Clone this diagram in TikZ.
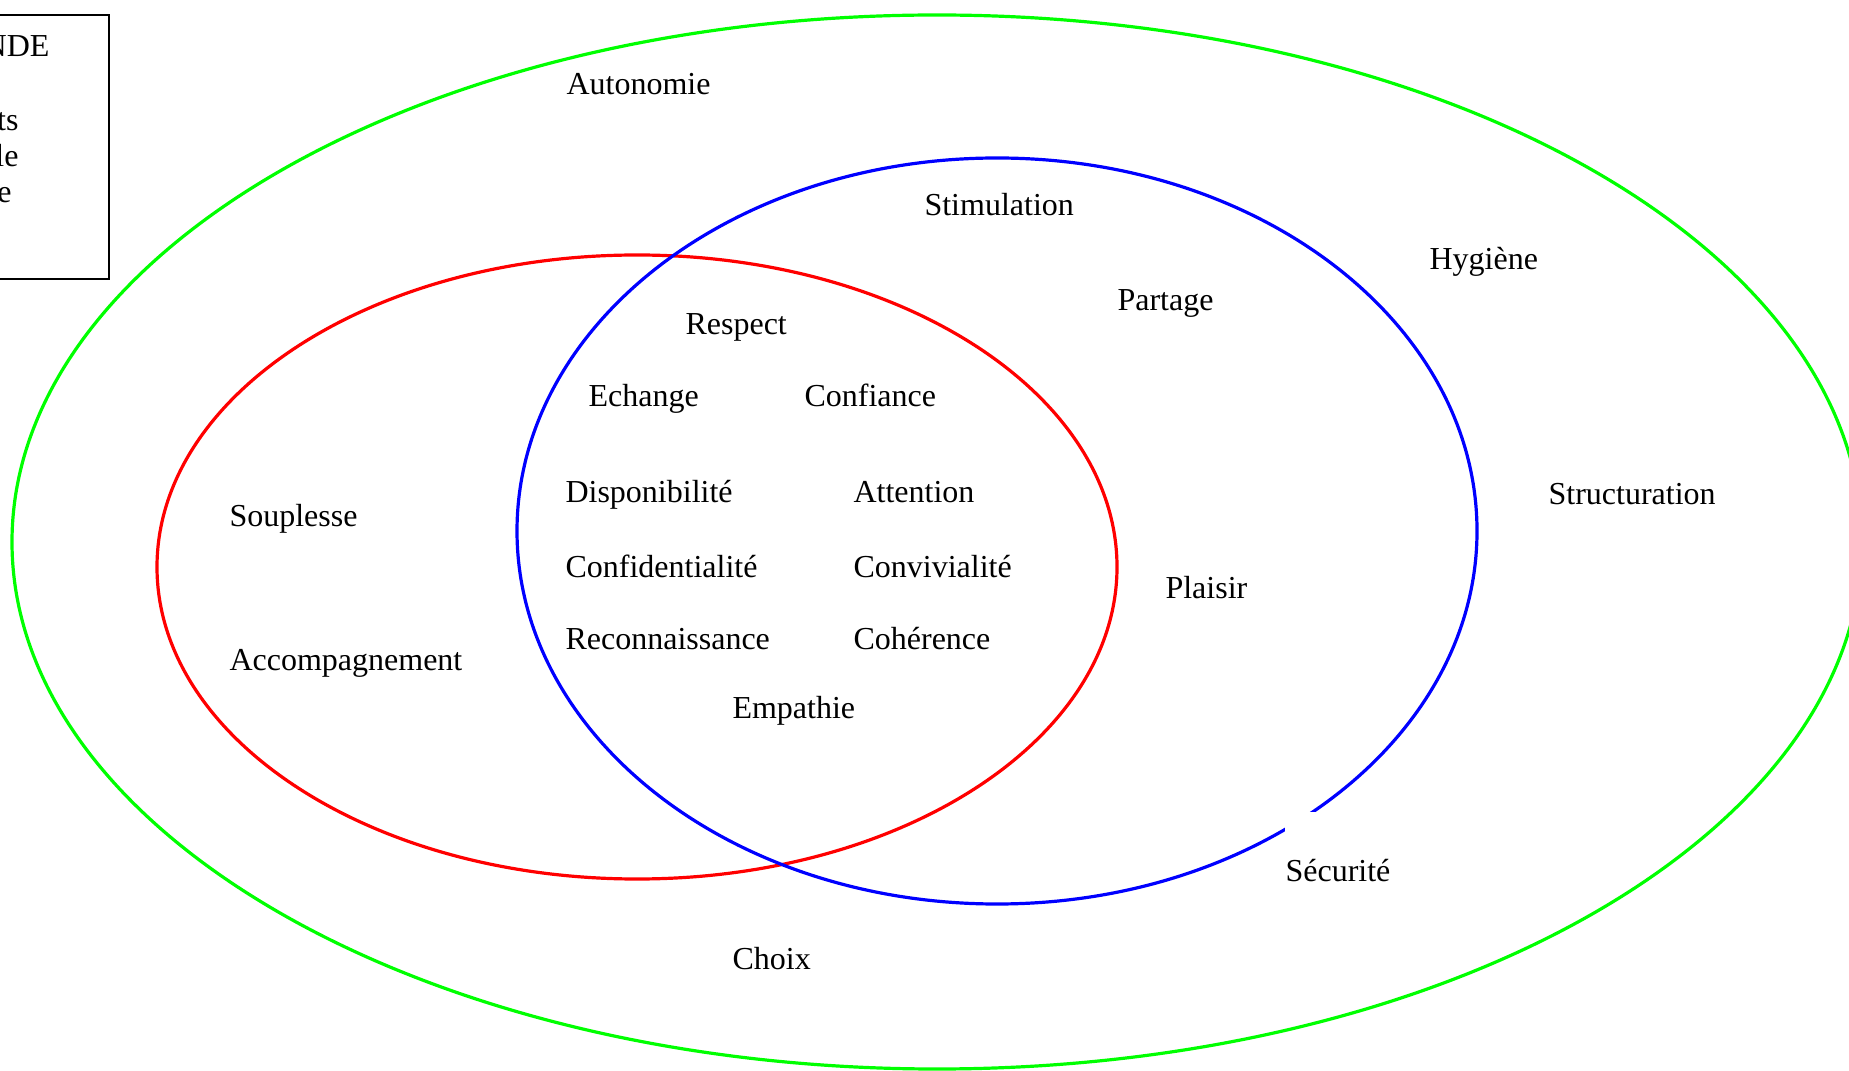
\documentclass[tikz,border=0pt]{standalone}
\usepackage{fontspec}
\setmainfont{Liberation Serif}
\begin{document}
\begin{tikzpicture}[x=0.375pt,y=-0.375pt,
  lbl/.style={anchor=base west,inner sep=0pt,font=\fontsize{12}{14}\selectfont},
  lbr/.style={anchor=base east,inner sep=0pt,font=\fontsize{12}{14}\selectfont},
  ring/.style={line width=1.2pt}]
\useasboundingbox (0,0) rectangle (1849,1071);
\definecolor{vgreen}{RGB}{0,255,0}
\definecolor{vred}{RGB}{255,0,0}
\definecolor{vblue}{RGB}{0,0,255}
% legend box
\draw[line width=0.6pt] (-20,15) rectangle (109,279);
\node[lbr] (l1) at (50,57) {NDE};
\node[lbr] (l2) at (19,131) {ts};
\node[lbr] (l3) at (19,167) {le};
\node[lbr] (l4) at (12,203) {e};
% ellipses
\draw[ring,vgreen] (937,542) ellipse [x radius=925, y radius=527];
\draw[ring,vred] (637,567) ellipse [x radius=480, y radius=312];
\draw[ring,vblue] (997,531) ellipse [x radius=480, y radius=373];
\fill[white] (1285,812) rectangle (1400,900);
% labels
\node[lbl] (autonomie) at (566,94.5) {Autonomie};
\node[lbl] (stimulation) at (924,215.5) {Stimulation};
\node[lbl] (hygiene) at (1429,269.5) {Hygiène};
\node[lbl] (partage) at (1117,310.5) {Partage};
\node[lbl] (respect) at (685,334.5) {Respect};
\node[lbl] (echange) at (588,406.5) {Echange};
\node[lbl] (confiance) at (804,406.5) {Confiance};
\node[lbl] (souplesse) at (229,526.5) {Souplesse};
\node[lbl] (dispo) at (565,502.5) {Disponibilité};
\node[lbl] (attention) at (853,502.5) {Attention};
\node[lbl] (structuration) at (1548,504.5) {Structuration};
\node[lbl] (confid) at (565,577.5) {Confidentialité};
\node[lbl] (convi) at (853,577.5) {Convivialité};
\node[lbl] (plaisir) at (1165,598.5) {Plaisir};
\node[lbl] (reco) at (565,649.5) {Reconnaissance};
\node[lbl] (coherence) at (853,649.5) {Cohérence};
\node[lbl] (accomp) at (229,670.5) {Accompagnement};
\node[lbl] (empathie) at (732,718.5) {Empathie};
\node[lbl] (securite) at (1285,881.5) {Sécurité};
\node[lbl] (choix) at (732,969.5) {Choix};
\end{tikzpicture}
\end{document}
